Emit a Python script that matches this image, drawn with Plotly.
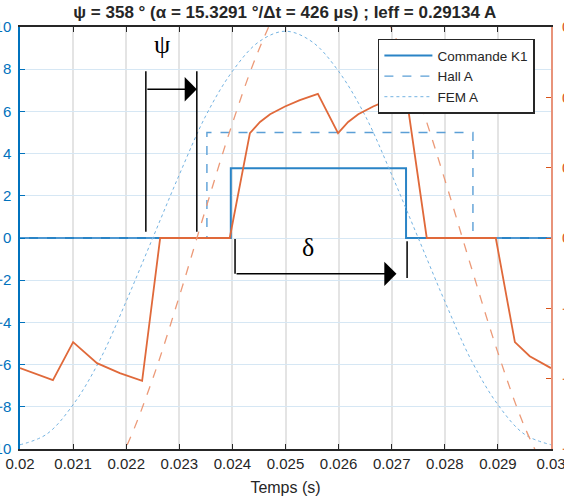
import plotly.graph_objects as go

# ---- data -------------------------------------------------------------
# Commande K1 (left axis)
t_cmd = [0.020, 0.02397, 0.02397, 0.02727, 0.02727, 0.030]
cmd = [0.0, 0.0, 3.3, 3.3, 0.0, 0.0]

# Hall A (left axis)
t_hall = [0.020, 0.02352, 0.02352, 0.02853, 0.02853, 0.030]
hall = [0.0, 0.0, 5.0, 5.0, 0.0, 0.0]

# FEM A (left axis), sampled every 0.5 ms
t_fem = [0.0200, 0.0205, 0.0210, 0.0215, 0.0220, 0.0225, 0.0230, 0.0235,
         0.0240, 0.0245, 0.0250, 0.0255, 0.0260, 0.0265, 0.0270, 0.0275,
         0.0280, 0.0285, 0.0290, 0.0295, 0.0300]
fem = [-9.8, -9.3, -7.9, -5.8, -3.0, 0.0, 3.0, 5.8, 7.9, 9.3, 9.8,
       9.3, 7.9, 5.8, 3.0, 0.0, -3.0, -5.8, -7.9, -9.3, -9.8]

# phase current (right axis)
t_cur = [0.0200, 0.02062, 0.0210, 0.02145, 0.02188, 0.0223, 0.02264, 0.02395,
         0.02433, 0.02452, 0.02471, 0.02499, 0.02527, 0.02561, 0.02599,
         0.02618, 0.02637, 0.02665, 0.02693, 0.02727, 0.02766, 0.02896,
         0.02932, 0.0296, 0.0300]
cur = [-0.185, -0.202, -0.148, -0.178, -0.192, -0.203, 0.0, 0.0,
       0.149, 0.165, 0.176, 0.187, 0.196, 0.205, 0.149,
       0.165, 0.176, 0.187, 0.196, 0.205, 0.0, 0.0,
       -0.148, -0.168, -0.185]

# back-EMF shape on the current scale (right axis)
t_emf = t_fem
emf = [-0.346, -0.391, -0.398, -0.365, -0.297, -0.200, -0.083, 0.042,
       0.163, 0.268, 0.346, 0.391, 0.398, 0.365, 0.297, 0.200,
       0.083, -0.042, -0.163, -0.268, -0.346]

x_ticks = [0.020, 0.021, 0.022, 0.023, 0.024, 0.025, 0.026, 0.027, 0.028, 0.029, 0.030]
x_labels = ["0.02", "0.021", "0.022", "0.023", "0.024", "0.025", "0.026",
            "0.027", "0.028", "0.029", "0.03"]

# ---- styling ----------------------------------------------------------
BLUE = "#0072BD"
ORANGE = "#D95319"
DARK = "#262626"
FONT = "Liberation Sans, Arial, sans-serif"
SERIF = "Liberation Serif, DejaVu Serif, serif"

fig = go.Figure()

fig.add_trace(go.Scatter(x=t_cmd, y=cmd, name="Commande K1", mode="lines",
                         line=dict(color="#2a84c6", width=2), legendgroup="a"))
fig.add_trace(go.Scatter(x=t_hall, y=hall, name="Hall A", mode="lines",
                         line=dict(color="#5b9fd6", width=1.4, dash="dash"),
                         legendgroup="b"))
fig.add_trace(go.Scatter(x=t_fem, y=fem, name="FEM A", mode="lines",
                         line=dict(color="#74b3e2", width=1.0, dash="dot", shape="spline"),
                         legendgroup="c"))

fig.add_trace(go.Scatter(x=t_cur, y=cur, mode="lines", yaxis="y2", showlegend=False,
                         line=dict(color="#e0693a", width=1.8)))
fig.add_trace(go.Scatter(x=t_emf, y=emf, mode="lines", yaxis="y2", showlegend=False,
                         line=dict(color="#ec9a78", width=1.3, dash="dash", shape="spline")))

# ---- psi / delta markers ---------------------------------------------
PSI_A, PSI_B = 0.02237, 0.02333
DEL_A, DEL_B = 0.02405, 0.02729
line_style = dict(color="black", width=1.5)
shapes = [
    dict(type="line", xref="x", yref="y", x0=PSI_A, x1=PSI_A, y0=0.3, y1=7.9, line=line_style),
    dict(type="line", xref="x", yref="y", x0=PSI_B, x1=PSI_B, y0=0.3, y1=7.9, line=line_style),
    dict(type="line", xref="x", yref="y", x0=DEL_A, x1=DEL_A, y0=-0.05, y1=-1.7, line=line_style),
    dict(type="line", xref="x", yref="y", x0=DEL_B, x1=DEL_B, y0=-0.15, y1=-1.9, line=line_style),
]
annotations = [
    dict(x=PSI_B, y=7.05, ax=PSI_A, ay=7.05, xref="x", yref="y", axref="x", ayref="y",
         showarrow=True, arrowhead=1, arrowsize=2.7, arrowwidth=1.5, arrowcolor="black", text=""),
    dict(x=DEL_B - 0.0002, y=-1.7, ax=DEL_A, ay=-1.7, xref="x", yref="y", axref="x", ayref="y",
         showarrow=True, arrowhead=1, arrowsize=2.7, arrowwidth=1.5, arrowcolor="black", text=""),
    dict(x=0.02268, y=9.15, xref="x", yref="y", text="ψ", showarrow=False,
         font=dict(family=SERIF, size=26, color="black")),
    dict(x=0.02542, y=-0.45, xref="x", yref="y", text="δ", showarrow=False,
         font=dict(family=SERIF, size=26, color="black")),
]

fig.update_layout(
    width=564, height=501,
    template="none",
    margin=dict(l=20, r=13, t=27, b=52, pad=0),
    paper_bgcolor="white", plot_bgcolor="white",
    font=dict(family=FONT, color=DARK),
    title=dict(text="<b>ψ = 358 ° (α = 15.3291 °/Δt = 426 µs) ; Ieff = 0.29134 A</b>",
               x=0.505, xanchor="center", y=0.975, yanchor="middle", yref="container",
               font=dict(size=17, family=FONT, color=DARK)),
    xaxis=dict(range=[0.02, 0.03], tickvals=x_ticks, ticktext=x_labels,
               ticks="inside", ticklen=5, tickcolor=DARK, tickwidth=1,
               showline=True, linecolor=DARK, linewidth=1.5, mirror="ticks",
               showgrid=True, gridcolor="#e4e4e4", gridwidth=1.5, zeroline=False,
               tickfont=dict(size=15, color=DARK), automargin=False,
               ticklabeloverflow="allow",
               title=dict(text="Temps (s)", font=dict(size=16, color=DARK), standoff=11)),
    yaxis=dict(range=[-10, 10], dtick=2, ticks="inside", ticklen=5, tickcolor=BLUE,
               showline=True, linecolor=BLUE, linewidth=1.5,
               showgrid=True, gridcolor="#d6e7f4", gridwidth=1, zeroline=False,
               tickfont=dict(size=15, color=BLUE), automargin=False,
               ticklabeloverflow="allow", ticklabelstandoff=4),
    yaxis2=dict(range=[-0.3, 0.3], dtick=0.1, overlaying="y", side="right",
                ticks="inside", ticklen=5, tickcolor=ORANGE,
                showline=True, linecolor="#e8937a", linewidth=2,
                showgrid=False, zeroline=False,
                tickfont=dict(size=15, color=ORANGE), automargin=False,
                ticklabeloverflow="allow", ticklabelstandoff=6),
    legend=dict(x=0.674, y=0.972, xanchor="left", yanchor="top",
                bgcolor="white", bordercolor=DARK, borderwidth=1.5,
                font=dict(size=13.5, color=DARK), traceorder="grouped",
                tracegroupgap=0, itemwidth=48, entrywidth=100),
    shapes=shapes,
    annotations=annotations,
)

fig.write_html("out.html")
